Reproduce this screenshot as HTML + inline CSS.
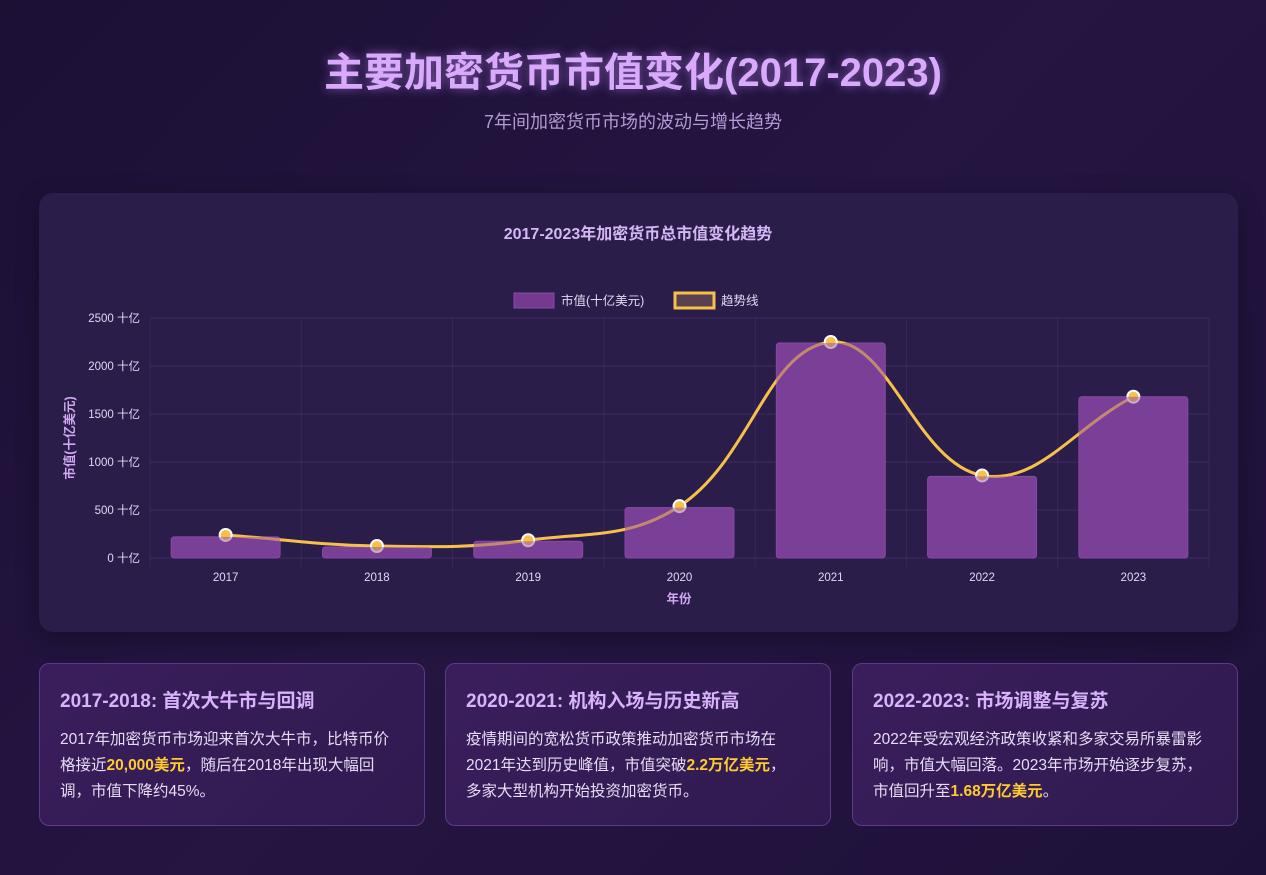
<!DOCTYPE html>
<html><head><meta charset="utf-8">
<style>
*{margin:0;padding:0;box-sizing:border-box}
body{width:1266px;height:875px;overflow:hidden;background:linear-gradient(135deg,#1c1035 0%,#241541 50%,#1e1139 100%);font-family:"Liberation Sans","Noto Sans CJK SC",sans-serif;position:relative}
h1{position:absolute;top:40px;left:0;width:1266px;text-align:center;font-size:40px;font-weight:bold;color:#d9a9fb;text-shadow:0 0 10px rgba(200,140,255,.6)}
.sub{position:absolute;top:108px;left:0;width:1266px;text-align:center;font-size:18px;color:#b49ad6}
.card{position:absolute;left:39px;top:193px;width:1199px;height:439px;background:#2b1d4a;border-radius:14px;box-shadow:0 6px 24px rgba(0,0,0,.3)}
.info{position:absolute;top:663px;height:163px;width:386px;background:linear-gradient(135deg,#3a1e5c,#2f1a4f);border:1px solid #5b3b86;border-radius:10px;padding:22px 20px}
.info h3{font-size:19px;color:#d8b2fa;font-weight:bold;margin-bottom:14px}
.info p{font-size:15.5px;line-height:26px;color:#e6dcf5}
.info b{color:#ffcb2e}
</style></head><body>
<h1>主要加密货币市值变化(2017-2023)</h1>
<div class="sub">7年间加密货币市场的波动与增长趋势</div>
<div class="card"></div>
<svg id="chart" width="1266" height="875" style="position:absolute;left:0;top:0" font-family="Liberation Sans, Noto Sans CJK SC, sans-serif"></svg>
<div class="info" style="left:39px"><h3>2017-2018: 首次大牛市与回调</h3><p>2017年加密货币市场迎来首次大牛市，比特币价格接近<b>20,000美元</b>，随后在2018年出现大幅回调，市值下降约45%。</p></div>
<div class="info" style="left:445px"><h3>2020-2021: 机构入场与历史新高</h3><p>疫情期间的宽松货币政策推动加密货币市场在2021年达到历史峰值，市值突破<b>2.2万亿美元</b>，<br>多家大型机构开始投资加密货币。</p></div>
<div class="info" style="left:852px"><h3>2022-2023: 市场调整与复苏</h3><p>2022年受宏观经济政策收紧和多家交易所暴雷影响，市值大幅回落。2023年市场开始逐步复苏，市值回升至<b>1.68万亿美元</b>。</p></div>
<script>
const categories=["2017","2018","2019","2020","2021","2022","2023"];
const marketCap=[220,115,175,525,2240,850,1680];
const trend=[240,125,185,540,2250,860,1680];
const yTicks=[0,500,1000,1500,2000,2500];
const NS="http://www.w3.org/2000/svg";
const svg=document.getElementById('chart');
const L=150,R=1209,T=318,B=558,YMAX=2500;
const bw=(R-L)/categories.length;
const xc=i=>L+bw*(i+0.5);
const y=v=>B-(v/YMAX)*(B-T);
function mk(tag,a,txt){const e=document.createElementNS(NS,tag);for(const k in a)e.setAttribute(k,a[k]);if(txt!=null)e.textContent=txt;svg.appendChild(e);return e;}
let e=mk('text',{x:638,y:239,'text-anchor':'middle','font-size':16,'font-weight':'bold',fill:'#d4b8f5'},'2017-2023年加密货币总市值变化趋势');

yTicks.forEach(t=>{mk('line',{x1:L,x2:R,y1:y(t),y2:y(t),stroke:'rgba(140,100,200,0.18)','stroke-width':1});
 e=mk('text',{x:140,y:y(t)+4,'text-anchor':'end','font-size':11.5,fill:'#e2d6f3'},t+' 十亿');
 });
for(let i=0;i<=categories.length;i++)mk('line',{x1:L+bw*i,x2:L+bw*i,y1:T,y2:B+9,stroke:'rgba(140,100,200,0.15)','stroke-width':1});
categories.forEach((c,i)=>{
 e=mk('rect',{x:xc(i)-bw*0.36,y:y(marketCap[i]),width:bw*0.72,height:B-y(marketCap[i]),rx:3,fill:'#733a8f',stroke:'#8a4aab','stroke-width':1});
 
 e=mk('text',{x:xc(i),y:581,'text-anchor':'middle','font-size':11.5,fill:'#e2d6f3'},c);
 
});
const pts=trend.map((v,i)=>[xc(i),y(v)]);
let d='M'+pts[0][0]+','+pts[0][1];
const cp=[];
for(let i=0;i<pts.length;i++){const p=pts[i-1]||pts[i],c=pts[i],n=pts[i+1]||pts[i];
 const d01=Math.hypot(c[0]-p[0],c[1]-p[1]),d12=Math.hypot(n[0]-c[0],n[1]-c[1]);
 let fa=d01/(d01+d12)||0,fb=d12/(d01+d12)||0;fa*=0.4;fb*=0.4;
 cp.push({p:[c[0]-fa*(n[0]-p[0]),c[1]-fa*(n[1]-p[1])],n:[c[0]+fb*(n[0]-p[0]),c[1]+fb*(n[1]-p[1])]});}
for(let i=1;i<pts.length;i++)d+=` C${cp[i-1].n[0]},${cp[i-1].n[1]} ${cp[i].p[0]},${cp[i].p[1]} ${pts[i][0]},${pts[i][1]}`;
e=mk('path',{d:d,fill:'none',stroke:'#f7c04a','stroke-width':3});

pts.forEach((p,i)=>{e=mk('circle',{cx:p[0],cy:p[1],r:6,fill:'#f7c04a',stroke:'#fff','stroke-width':2});
 });
categories.forEach((c,i)=>mk('rect',{x:xc(i)-bw*0.36,y:y(marketCap[i]),width:bw*0.72,height:B-y(marketCap[i]),rx:3,fill:'rgba(130,70,160,0.45)'}));
e=mk('text',{x:679,y:603,'text-anchor':'middle','font-size':12.5,'font-weight':'bold',fill:'#cfa8f0'},'年份');

e=mk('text',{x:0,y:0,transform:'translate(74,438) rotate(-90)','text-anchor':'middle','font-size':12.5,'font-weight':'bold',fill:'#cfa8f0'},'市值(十亿美元)');

e=mk('rect',{x:514,y:293,width:40,height:15,fill:'#733a8f',stroke:'#8a4aab'});

e=mk('text',{x:561,y:305,'font-size':12.5,fill:'#e2d6f3'},'市值(十亿美元)');

e=mk('rect',{x:675,y:293,width:39,height:15,fill:'#5a4150',stroke:'#f7c04a','stroke-width':3});

e=mk('text',{x:721,y:305,'font-size':12.5,fill:'#e2d6f3'},'趋势线');

</script>
</body></html>
